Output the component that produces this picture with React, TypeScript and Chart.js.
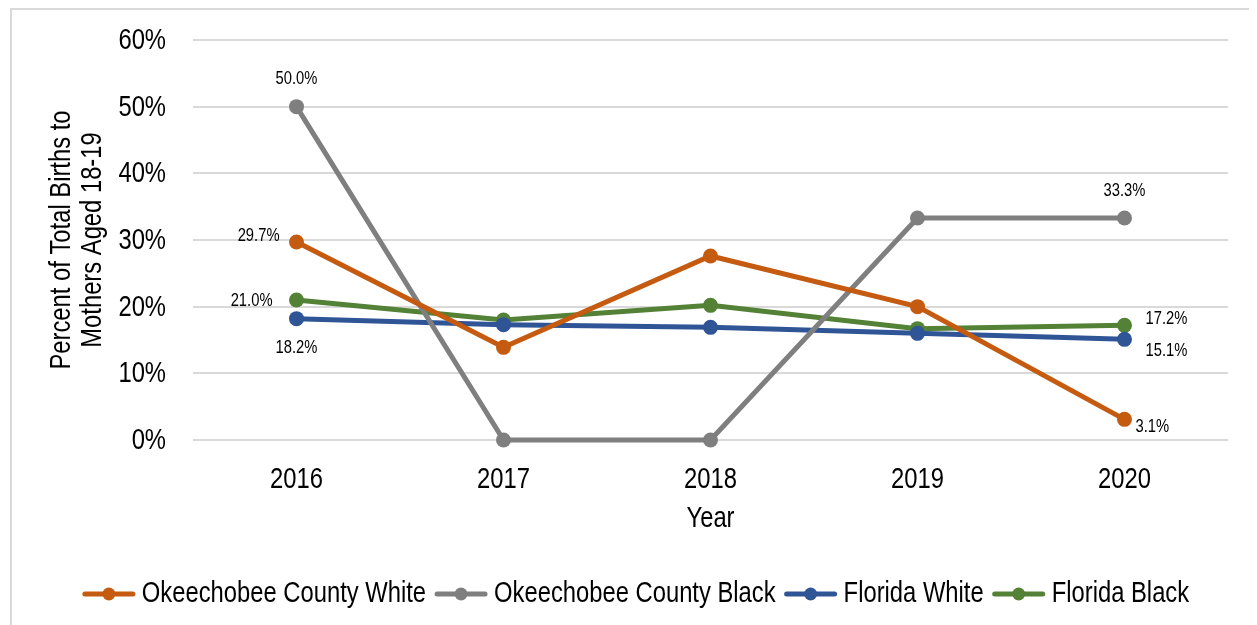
import React, { useEffect, useRef } from "react";
import { Chart, registerables } from "chart.js";

Chart.register(...registerables);

const years = ["2016", "2017", "2018", "2019", "2020"];
const okeechobeeWhite = [29.7, 13.9, 27.6, 20.0, 3.1];
const okeechobeeBlack = [50.0, 0, 0, 33.3, 33.3];
const floridaWhite = [18.2, 17.3, 16.9, 16.0, 15.1];
const floridaBlack = [21.0, 18.0, 20.2, 16.7, 17.2];
const yTicks = [0, 10, 20, 30, 40, 50, 60];

const seriesNames = [
  "Okeechobee County White",
  "Okeechobee County Black",
  "Florida White",
  "Florida Black",
];
const seriesColors = ["#C55A11", "#7F7F7F", "#2F5597", "#538135"];
const seriesData = [okeechobeeWhite, okeechobeeBlack, floridaWhite, floridaBlack];

// labels: [seriesIndex, pointIndex, align, dx, dy]
const dataLabels: [number, number, CanvasTextAlign, number, number][] = [
  [1, 0, "center", 0, -28],
  [0, 0, "right", -17, -6],
  [3, 0, "right", -24, 1],
  [2, 0, "center", 0, 29],
  [1, 4, "center", 0, -27],
  [3, 4, "left", 21, -6],
  [2, 4, "left", 21, 12],
  [0, 4, "left", 11, 8],
];

const FONT = "'Liberation Sans', Arial, sans-serif";
const NARROW = 0.82;

function narrowText(
  ctx: CanvasRenderingContext2D,
  text: string,
  x: number,
  y: number,
  align: CanvasTextAlign,
  size: number,
  rotate = 0
) {
  ctx.save();
  ctx.font = `${size}px ${FONT}`;
  ctx.textAlign = align;
  ctx.textBaseline = "middle";
  ctx.fillStyle = "#000";
  ctx.translate(x, y);
  if (rotate) ctx.rotate(rotate);
  ctx.scale(NARROW, 1);
  ctx.fillText(text, 0, 0);
  ctx.restore();
}

const overlayPlugin = {
  id: "overlay",
  afterDatasetsDraw(chart: any) {
    const ctx = chart.ctx as CanvasRenderingContext2D;
    const area = chart.chartArea;
    const xs = chart.scales.x;
    const ys = chart.scales.y;

    // y tick labels
    yTicks.forEach((v) => {
      narrowText(ctx, v + "%", area.left - 27, ys.getPixelForValue(v) + 1, "right", 29);
    });
    // x tick labels
    years.forEach((y, i) => {
      narrowText(ctx, y, xs.getPixelForValue(i), area.bottom + 40, "center", 29);
    });

    // data labels
    dataLabels.forEach(([s, i, align, dx, dy]) => {
      const pt = chart.getDatasetMeta(s).data[i];
      const v = seriesData[s][i];
      narrowText(ctx, v.toFixed(1) + "%", pt.x + dx, pt.y + dy, align, 18);
    });

    // y title
    const cy = (area.top + area.bottom) / 2;
    narrowText(ctx, "Percent of Total Births to", 54, cy, "center", 29, -Math.PI / 2);
    narrowText(ctx, "Mothers Aged 18-19", 85, cy, "center", 29, -Math.PI / 2);

    // x title
    narrowText(ctx, "Year", (area.left + area.right) / 2, 511, "center", 29);

    // legend
    ctx.save();
    ctx.font = `29px ${FONT}`;
    const markerW = 52;
    const gapText = 7;
    const gapEntry = 9;
    const widths = seriesNames.map((n) => ctx.measureText(n).width * NARROW);
    ctx.restore();
    const total =
      widths.reduce((a, b) => a + b, 0) +
      seriesNames.length * (markerW + gapText) +
      (seriesNames.length - 1) * gapEntry;
    let x = 628 - total / 2;
    const ly = 586;
    seriesNames.forEach((n, k) => {
      ctx.save();
      ctx.strokeStyle = seriesColors[k];
      ctx.lineWidth = 5;
      ctx.lineCap = "round";
      ctx.beginPath();
      ctx.moveTo(x + 2, ly);
      ctx.lineTo(x + markerW - 2, ly);
      ctx.stroke();
      ctx.fillStyle = seriesColors[k];
      ctx.beginPath();
      ctx.arc(x + markerW / 2, ly, 6.5, 0, Math.PI * 2);
      ctx.fill();
      ctx.restore();
      narrowText(ctx, n, x + markerW + gapText, ly, "left", 29);
      x += markerW + gapText + widths[k] + gapEntry;
    });
  },
};

export default function App() {
  const ref = useRef<HTMLCanvasElement>(null);

  useEffect(() => {
    if (!ref.current) return;
    const chart = new Chart(ref.current, {
      type: "line",
      data: {
        labels: years,
        datasets: seriesData.map((d, k) => ({
          label: seriesNames[k],
          data: d,
          borderColor: seriesColors[k],
          backgroundColor: seriesColors[k],
          borderWidth: 5,
          pointRadius: 7.5,
          pointHoverRadius: 7.5,
          pointBorderWidth: 0,
          tension: 0,
          clip: false as any,
        })),
      },
      options: {
        responsive: false,
        animation: false,
        events: [],
        layout: { padding: { left: 0, right: 29, top: 32, bottom: 125 } },
        plugins: {
          legend: { display: false },
          tooltip: { enabled: false },
          title: { display: false },
        },
        scales: {
          x: {
            offset: true,
            grid: { display: false, drawTicks: false },
            border: { display: false },
            ticks: { display: false },
            afterFit: (s: any) => {
              s.height = 60;
            },
          },
          y: {
            min: 0,
            max: 60,
            afterBuildTicks: (s: any) => {
              s.ticks = yTicks.map((v) => ({ value: v }));
            },
            grid: { color: "#D9D9D9", lineWidth: 2, drawTicks: false },
            border: { display: false },
            ticks: { display: false },
            afterFit: (s: any) => {
              s.width = 185;
            },
          },
        },
      },
      plugins: [overlayPlugin],
    });
    return () => chart.destroy();
  }, []);

  return (
    <div
      style={{
        position: "relative",
        width: 1249,
        height: 617,
        overflow: "hidden",
        background: "#fff",
      }}
    >
      <div
        style={{
          position: "absolute",
          left: 2,
          top: 0,
          width: 1260,
          height: 640,
          border: "2px solid #D9D9D9",
          boxSizing: "border-box",
        }}
      />
      <canvas
        ref={ref}
        width={1249}
        height={617}
        style={{ position: "absolute", left: 0, top: 0 }}
      />
    </div>
  );
}
